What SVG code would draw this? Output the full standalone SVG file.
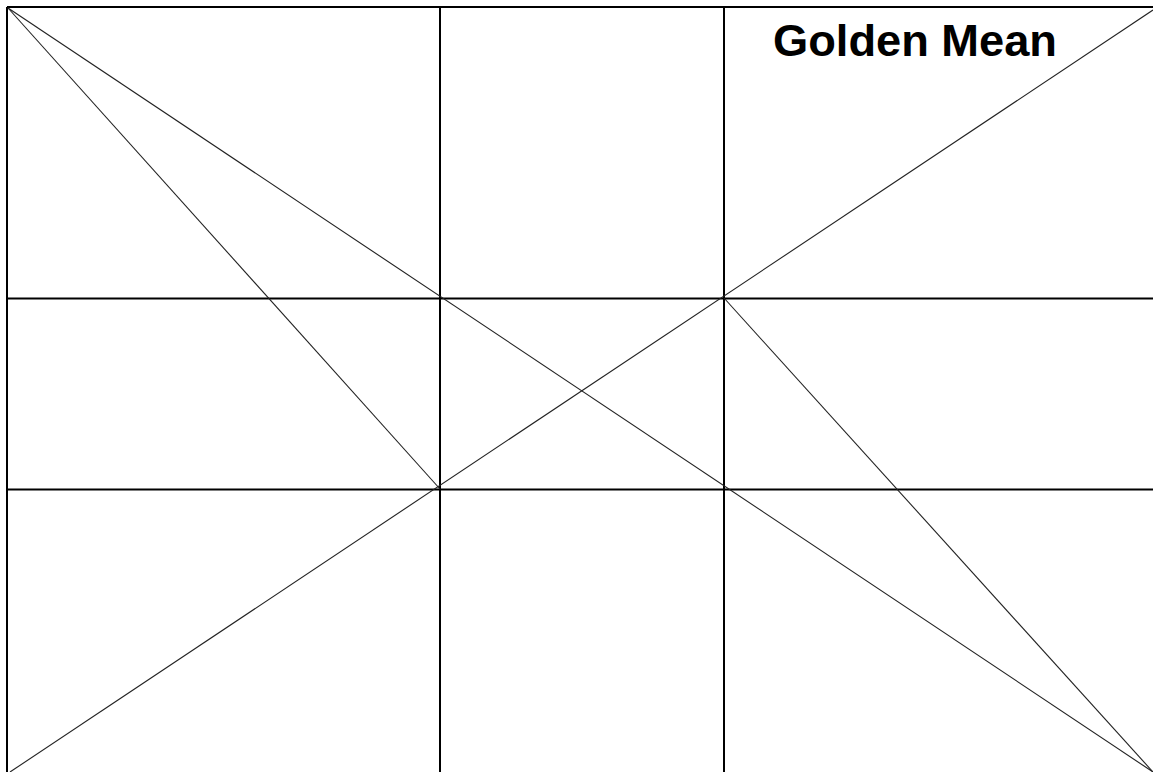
<svg xmlns="http://www.w3.org/2000/svg" width="1153" height="772" viewBox="0 0 1153 772">
<style>
.grid{stroke:#000;stroke-width:2;fill:none}
.diag{stroke:#222;stroke-width:1.1;fill:none}
.title{font-family:"Liberation Sans",Arial,sans-serif;font-weight:bold;font-size:44px;fill:#000}
</style>
<rect width="1153" height="772" fill="#fff"/>
<g id="grid">
<line class="grid" x1="7" y1="7" x2="1153" y2="7"/>
<line class="grid" x1="7" y1="7" x2="7" y2="772"/>
<line class="grid" x1="440" y1="7" x2="440" y2="772"/>
<line class="grid" x1="724" y1="7" x2="724" y2="772"/>
<line class="grid" x1="7" y1="298.5" x2="1153" y2="298.5"/>
<line class="grid" x1="7" y1="489.5" x2="1153" y2="489.5"/>
</g>
<g id="diagonals">
<line class="diag" x1="8" y1="8" x2="1153" y2="772"/>
<line class="diag" x1="10" y1="772" x2="1153" y2="10"/>
<line class="diag" x1="8" y1="8" x2="440" y2="489"/>
<line class="diag" x1="724" y1="298" x2="1153" y2="772"/>
</g>
<g id="title">
<text class="title" x="773" y="56" textLength="284" lengthAdjust="spacingAndGlyphs">Golden Mean</text>
</g>
</svg>
